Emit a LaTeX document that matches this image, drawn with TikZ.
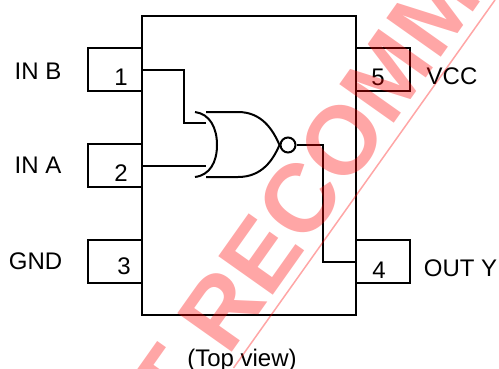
\documentclass[tikz,border=0pt]{standalone}
\usepackage{fontspec}
\setmainfont{Liberation Sans}
\tikzset{
  pinbox/.style={draw,line width=2pt,minimum width=54pt,minimum height=43pt,inner sep=0pt},
  wire/.style={line width=2pt},
  lbl/.style={font=\fontsize{24}{26}\selectfont,inner sep=0pt}
}
\begin{document}
\begin{tikzpicture}[x=1pt,y=-1pt]
  \useasboundingbox (0,0) rectangle (499,368);
  \draw[line width=2pt] (142,16) rectangle (355.5,315);
  \node[pinbox] (pinone) at (115,69.5) {};
  \node[pinbox] (pintwo) at (115,165.5) {};
  \node[pinbox] (pinthree) at (115,261.5) {};
  \node[pinbox] (pinfour) at (382.5,261.5) {};
  \node[pinbox] (pinfive) at (382.5,69.5) {};
  \node[lbl] (numone) at (121,77) {1};
  \node[lbl] (numtwo) at (121,173) {2};
  \node[lbl] (numthree) at (124,266) {3};
  \node[lbl] (numfour) at (379,270) {4};
  \node[lbl] (numfive) at (378,77) {5};
  \node[lbl] (inb) at (38,71) {IN B};
  \node[lbl] (ina) at (38,165) {IN A};
  \node[lbl] (gnd) at (35.5,261) {GND};
  \node[lbl] (vcc) at (452,76) {VCC};
  \node[lbl] (outy) at (460.5,268) {OUT Y};
  \node[lbl] (topview) at (242,360) {(Top view)};
  \coordinate (gatea) at (206,123);
  \coordinate (gateb) at (206,165.5);
  \node[draw,circle,line width=2pt,minimum size=15pt,inner sep=0pt] (bubble) at (288,145) {};
  \draw[wire] (pinone.east) -| (184,123) -- (gatea);
  \draw[wire] (pintwo.east) -- (gateb);
  \draw[wire] (bubble.east) -| (323,261.5) -- (pinfour.west);
  \draw[wire] (195,112) .. controls (210,114) and (217,128) .. (217,145)
    .. controls (217,162) and (210,175) .. (195,177);
  \draw[wire] (206,112) -- (238,112) .. controls (262,112) and (273,130) .. (bubble.west)
    .. controls (273,160) and (262,177) .. (238,177) -- (206,177);
  \node[red,opacity=0.35,font=\bfseries\fontsize{97}{97}\selectfont,rotate=54.7,inner sep=0pt,anchor=base west] (stamp) at (178.8,428) {T RECOMM};
  \draw[red,opacity=0.35,line width=1.5pt] (233.5,368) -- (495,0);
\end{tikzpicture}
\end{document}
